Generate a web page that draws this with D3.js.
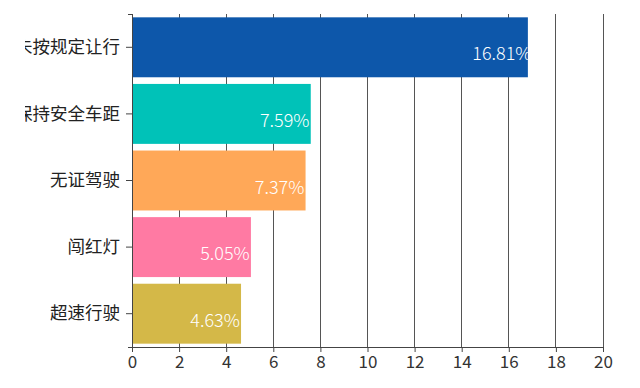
<!DOCTYPE html>
<html>
<head>
<meta charset="utf-8">
<script src="https://cdn.jsdelivr.net/npm/d3@7"></script>
<style>
  html, body { margin: 0; padding: 0; background: #fff; }
  svg { display: block; font-family: "Noto Sans CJK SC", "Noto Sans", sans-serif; }
</style>
</head>
<body>
<div id="chart"></div>
<script>
// data
const categories = ["未按规定让行", "未保持安全车距", "无证驾驶", "闯红灯", "超速行驶"];
const values = [16.81, 7.59, 7.37, 5.05, 4.63];
const colors = ["#0d57aa", "#00c2b8", "#ffa858", "#ff7aa3", "#d4b848"];
const xTicks = [0, 2, 4, 6, 8, 10, 12, 14, 16, 18, 20];

const width = 640, height = 388;
const margin = { top: 14, right: 37, bottom: 41, left: 132 };

const svg = d3.select("#chart").append("svg")
    .attr("width", width)
    .attr("height", height);

const x = d3.scaleLinear()
    .domain([0, 20])
    .range([margin.left, width - margin.right]);

const y = d3.scaleBand()
    .domain(categories)
    .range([margin.top, height - margin.bottom])
    .paddingInner(0.1)
    .paddingOuter(0.05);

// grid lines
svg.append("g")
    .selectAll("line")
    .data(xTicks)
    .enter().append("line")
    .attr("x1", d => x(d))
    .attr("x2", d => x(d))
    .attr("y1", margin.top)
    .attr("y2", height - margin.bottom)
    .attr("stroke", "#555")
    .attr("stroke-width", 1)
    .attr("shape-rendering", "crispEdges");

// bars
const data = categories.map((c, i) => ({ name: c, value: values[i], color: colors[i] }));

svg.append("g")
    .selectAll("rect")
    .data(data)
    .enter().append("rect")
    .attr("x", x(0))
    .attr("y", d => y(d.name))
    .attr("width", d => x(d.value) - x(0))
    .attr("height", y.bandwidth())
    .attr("fill", d => d.color);

// value labels, clipped to each bar
const defs = svg.append("defs");
data.forEach((d, i) => {
    defs.append("clipPath").attr("id", "bar-clip-" + i)
        .append("rect")
        .attr("x", x(0))
        .attr("y", y(d.name))
        .attr("width", x(d.value) - x(0))
        .attr("height", y.bandwidth());
});

svg.append("g")
    .selectAll("text")
    .data(data)
    .enter().append("text")
    .attr("clip-path", (d, i) => "url(#bar-clip-" + i + ")")
    .attr("x", d => x(d.value) - 26)
    .attr("y", d => y(d.name) + y.bandwidth() / 2 + 13)
    .attr("text-anchor", "middle")
    .attr("fill", "#fff")
    .attr("font-size", 18)
    .attr("font-weight", 300)
    .text(d => d.value.toFixed(2) + "%");

// x axis
const xAxis = svg.append("g")
    .attr("transform", `translate(0,${height - margin.bottom})`)
    .call(d3.axisBottom(x).tickValues(xTicks).tickSize(5).tickSizeOuter(5).tickPadding(4));
xAxis.select(".domain").attr("stroke", "#444");
xAxis.selectAll(".tick line").attr("stroke", "#444");
xAxis.selectAll("text")
    .attr("fill", "#333")
    .attr("font-size", 17)
    .attr("font-family", "\"Noto Sans CJK SC\", sans-serif");

// y axis, left side clipped like the original
defs.append("clipPath").attr("id", "label-clip")
    .append("rect")
    .attr("x", 25).attr("y", 0)
    .attr("width", width).attr("height", height);

const yAxis = svg.append("g")
    .attr("clip-path", "url(#label-clip)")
    .append("g")
    .attr("transform", `translate(${margin.left},0)`)
    .call(d3.axisLeft(y).tickSize(6).tickSizeOuter(4).tickPadding(6));
yAxis.select(".domain").attr("stroke", "#444");
yAxis.selectAll(".tick line").attr("stroke", "#444");
yAxis.selectAll("text")
    .attr("fill", "#222")
    .attr("font-size", 17.5)
    .attr("font-family", "\"Noto Sans CJK SC\", sans-serif");
</script>
</body>
</html>
